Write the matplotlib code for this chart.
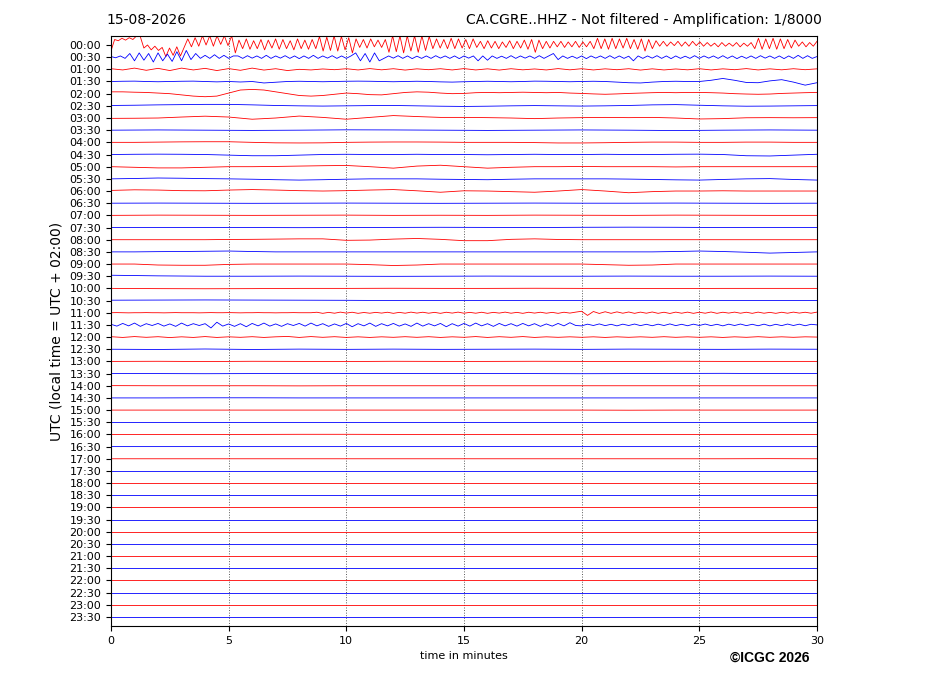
import numpy as np
import matplotlib
matplotlib.use("Agg")
import matplotlib.pyplot as plt

# helicorder: one trace per half hour, values = offset in units of the line spacing (up = positive)
date_label = "15-08-2026"
station_label = "CA.CGRE..HHZ - Not filtered - Amplification: 1/8000"
minutes_span = 30
x_ticks = [0, 5, 10, 15, 20, 25, 30]
row_labels = [f"{h:02d}:{m:02d}" for h in range(24) for m in (0, 30)]
trace_colors = ["red", "blue"]

tr_0000 = [
    -0.5, 0.45, 0.35, 0.55, 0.4, 0.6, 0.45, 0.75, 0.7,
    -0.25, 0.0, -0.4, -0.1, -0.45,
    -0.2, -0.95, -0.25, -0.85, -0.15, -0.9, -0.2,
    0.5, -0.15, 0.6,
    -0.1, 0.75, 0.0, 0.75, -0.1, 0.75, 0.05, 0.75, -0.05, 0.75,
    -0.65,
    0.4, -0.3, 0.5, -0.35, 0.35, -0.3, 0.45, -0.4, 0.4, -0.25, 0.5, -0.35, 0.45, -0.3, 0.35, -0.4, 0.5, -0.3, 0.4, -0.35, 0.45, -0.3,
    0.7, -0.5, 0.65, -0.45, 0.75, -0.5, 0.7, -0.4, 0.6, -0.65,
    0.5, -0.2, 0.45, -0.25, 0.5, -0.15, 0.4, -0.2, 0.45,
    -0.6, 0.75, -0.55, 0.75, -0.65, 0.75, -0.5, 0.75, -0.6, 0.75, -0.45, 0.7,
    -0.3, 0.5, -0.25, 0.45, -0.3, 0.55, -0.3, 0.5, -0.25, 0.45, -0.3, 0.5,
    -0.2, 0.3, -0.3, 0.35, -0.25, 0.3, -0.3, 0.25, -0.2, 0.35, -0.3, 0.3, -0.25, 0.4, -0.35, 0.45, -0.6, 0.4, -0.3, 0.3, -0.25, 0.3,
    -0.15, 0.3, -0.2, 0.25, -0.15, 0.3, -0.2, 0.25, -0.15, 0.3,
    -0.3, 0.55, -0.3, 0.5, -0.35, 0.55, -0.3, 0.5, -0.25, 0.55, -0.3, 0.45, -0.35, 0.5, -0.5, 0.45, -0.3, 0.35,
    -0.1, 0.3, -0.1, 0.25, -0.05, 0.3, -0.1, 0.25, -0.1, 0.3, -0.05, 0.25, -0.1, 0.2,
    -0.1, 0.15, -0.15, 0.2, -0.1, 0.15, -0.1, 0.2, -0.15, 0.15, -0.1, 0.2,
    -0.3, 0.55, -0.35, 0.5, -0.3, 0.55, -0.35, 0.5, -0.3, 0.45, -0.25, 0.4,
    -0.1, 0.25, -0.15, 0.2, -0.1, 0.3,
]
tr_0030 = [
    0.05, -0.05, 0.1, -0.1,
    0.3, -0.3, 0.35, -0.25, 0.3, -0.4, 0.35, -0.3, 0.25, -0.35, 0.45, -0.3, 0.55, -0.2, 0.3,
    -0.1, 0.15, -0.1, 0.2, -0.1, 0.15, -0.1, 0.1,
    0.1, -0.1, 0.12, -0.08, 0.1, -0.1, 0.15, -0.1, 0.1, -0.08, 0.12, -0.1, 0.1, -0.12, 0.1, -0.1, 0.15, -0.1, 0.1, -0.08, 0.12, -0.1, 0.1, -0.1, 0.1,
    0.35, -0.3, 0.3, -0.4, 0.35, -0.3,
    -0.1, 0.1, -0.08, 0.12, -0.1, 0.1, -0.12, 0.08, -0.1, 0.1, -0.1, 0.12, -0.08, 0.1, -0.1, 0.1, -0.12, 0.1, -0.08, 0.1,
    -0.3, 0.1, -0.25,
    0.1, -0.1, 0.08, -0.1, 0.12, -0.1, 0.1, -0.08, 0.1, -0.1, 0.12, -0.1, 0.1,
    0.3, -0.2,
    0.1, -0.1, 0.08, -0.1, 0.1, -0.12, 0.1, -0.08, 0.1, -0.1, 0.12, -0.1, 0.1, -0.1, 0.08,
    -0.3, 0.1,
    -0.1, 0.1, -0.08, 0.12, -0.1, 0.1, -0.12, 0.1, -0.1, 0.08, -0.1, 0.12, -0.1, 0.1, -0.08, 0.1, -0.1, 0.12, -0.1,
    0.1, -0.12, 0.08, -0.1, 0.1, -0.1, 0.12, -0.08, 0.1, -0.1, 0.1, -0.12, 0.1, -0.1, 0.15, -0.1, 0.12, -0.1, 0.05,
]
tr_0100 = [
    0.05, -0.05, 0.1, -0.08, 0.08, -0.1, 0.1, -0.05, 0.08, -0.1, 0.06, -0.08, 0.1, -0.06, 0.05, -0.1,
    0.0, -0.05, 0.03, -0.03, 0.05, -0.05, 0.06, -0.04, 0.05, -0.06, 0.04, -0.03, 0.05, -0.05, 0.06,
    -0.05, 0.04, -0.06, 0.05, -0.04, 0.03, -0.05, 0.06, -0.04, 0.05, -0.05, 0.04, -0.03, 0.05, -0.06,
    0.04, -0.05, 0.03, -0.04, 0.05, -0.05, 0.04, -0.03, 0.06, -0.05, 0.04, -0.04, 0.05, -0.03, 0.04,
]
tr_0130 = [
    0.0, 0.02, 0.03, 0.0, -0.02, 0.0, 0.02, 0.03, 0.0, -0.03, 0.0,
    -0.04, 0.0, -0.12, -0.06, 0.0, 0.02, 0.0, -0.02, 0.0, 0.02,
    0.03, 0.02, 0.0, -0.02, 0.0, 0.02, 0.0, -0.03, -0.05, -0.02,
    0.0, 0.02, 0.0, -0.02, 0.0, 0.03, 0.02, 0.0, -0.02, 0.0,
    0.02, 0.0, -0.05, -0.1, -0.12, -0.05, 0.0, 0.02, 0.0, 0.0,
    0.1, 0.25, 0.1, -0.08, -0.1, 0.05, 0.15, -0.05, -0.3, -0.1,
]
tr_0200 = [
    0.15, 0.15, 0.12, 0.1, 0.05, 0.0, -0.1, -0.2, -0.25, -0.2, 0.05,
    0.3, 0.35, 0.3, 0.15, 0.0, -0.15, -0.2, -0.15, -0.05, 0.05,
    0.0, -0.08, -0.1, 0.0, 0.1, 0.15, 0.12, 0.05, 0.0, 0.02,
    0.08, 0.1, 0.08, 0.1, 0.12, 0.1, 0.08, 0.1, 0.05, 0.02,
    -0.02, -0.05, -0.02, 0.02, 0.05, 0.08, 0.1, 0.08, 0.1, 0.1,
    0.08, 0.05, 0.0, -0.03, -0.05, -0.03, 0.02, 0.05, 0.08, 0.1,
]
tr_0230 = [0.03, 0.05, 0.08, 0.1, 0.12, 0.12, 0.08, 0.03, 0.0, -0.02, 0.0, 0.02, 0.03, 0.0, -0.03, -0.05,
           -0.03, 0.0, 0.02, 0.0, -0.02, 0.0, 0.03, 0.08, 0.1, 0.05, 0.0, -0.03, -0.02, 0.0, 0.02]
tr_0300 = [-0.03, -0.02, 0.0, 0.08, 0.15, 0.08, -0.1, 0.0, 0.16, 0.05, -0.1, 0.05, 0.2, 0.12, 0.05, 0.05,
           0.03, 0.0, -0.05, 0.0, 0.03, 0.05, 0.03, 0.05, 0.0, -0.08, -0.05, 0.02, 0.03, 0.02, 0.03]
tr_0330 = [0.0, 0.02, 0.0, -0.02, 0.0, 0.03, 0.02, 0.0, -0.02, 0.0, 0.02, 0.0, -0.03, 0.0, 0.02, 0.0]
tr_0400 = [0.0, 0.0, 0.02, 0.04, 0.05, 0.05, 0.0, -0.04, -0.05, -0.04, 0.0, 0.02, 0.03, 0.03, 0.02, 0.0,
           0.0, 0.0, -0.02, -0.05, -0.05, -0.03, 0.0, 0.02, 0.02, 0.0, 0.0, 0.02, 0.02, 0.0, 0.0]
tr_0430 = [0.0, 0.02, 0.03, 0.02, 0.0, -0.05, -0.1, -0.1, -0.05, 0.0, 0.02, 0.0, 0.0, 0.02, 0.0, 0.0,
           -0.02, 0.0, 0.02, 0.0, 0.0, 0.02, 0.0, 0.0, 0.02, 0.03, 0.0, -0.1, -0.12, -0.05, 0.02]
tr_0500 = [0.0, -0.05, -0.1, -0.1, -0.05, 0.0, 0.0, 0.02, 0.05, 0.08, 0.1, 0.0, -0.12, 0.05, 0.12, 0.0,
           -0.12, -0.05, 0.0, 0.0, 0.02, 0.0, 0.0, 0.0, -0.02, 0.0, 0.0, 0.0, 0.0, 0.0, 0.0]
tr_0530 = [0.0, 0.03, 0.07, 0.05, 0.02, 0.0, -0.03, -0.07, -0.1, -0.07, -0.03, 0.0, 0.0, 0.0, -0.03, -0.05,
           -0.07, -0.03, 0.0, 0.0, 0.0, 0.0, -0.02, -0.05, -0.08, -0.1, -0.05, 0.0, 0.02, -0.05, -0.1]
tr_0600 = [0.05, 0.1, 0.08, 0.03, 0.02, 0.08, 0.12, 0.08, 0.03, 0.0, 0.03, 0.08, 0.12, 0.02, -0.1, 0.02,
           0.0, -0.05, -0.1, 0.0, 0.12, 0.0, -0.14, -0.05, 0.0, 0.0, 0.02, 0.0, 0.0, 0.0, 0.0]
tr_0630 = [0.0, 0.01, 0.0, -0.01, 0.0, 0.01, 0.0, -0.01, 0.0, 0.01, 0.0, 0.0, 0.01, 0.0, -0.01, 0.0]
tr_0700 = [0.0, 0.02, 0.01, 0.0, 0.01, 0.02, 0.0, 0.01, 0.0, 0.02, 0.01, 0.0, 0.02, 0.01, 0.0, 0.0]
tr_0730 = [0.0, 0.01, 0.0, 0.0, -0.01, 0.0, 0.01, 0.02, 0.01, 0.0, 0.02, 0.03, 0.02, 0.0, 0.01, 0.0]
tr_0800 = [0.0, 0.0, 0.0, 0.0, 0.0, 0.02, 0.03, 0.05, 0.07, 0.07, -0.05, -0.03, 0.05, 0.1, 0.03, -0.08,
           -0.08, 0.03, 0.07, 0.02, 0.0, 0.0, 0.0, 0.0, 0.0, 0.0, 0.0, 0.0, 0.0, 0.0, 0.0]
tr_0830 = [0.0, 0.0, 0.02, 0.03, 0.05, 0.07, 0.03, 0.0, 0.0, 0.0, 0.0, 0.0, 0.0, 0.0, 0.0, 0.0,
           0.0, 0.0, 0.0, 0.0, 0.0, 0.0, 0.0, 0.0, 0.03, 0.07, 0.03, -0.03, -0.1, -0.05, 0.0]
tr_0900 = [0.0, 0.0, -0.08, -0.1, -0.1, -0.03, 0.0, 0.0, 0.0, 0.0, 0.0, -0.05, -0.12, -0.08, 0.0, 0.0,
           0.0, 0.0, 0.0, 0.0, 0.0, -0.05, -0.1, -0.08, 0.0, 0.0, 0.0, 0.0, 0.0, 0.0, 0.0]
tr_0930 = [0.08, 0.03, 0.0, 0.0, 0.01, 0.0, -0.01, 0.0, 0.01, 0.0, 0.0, 0.01, 0.0, 0.0, 0.01, 0.0]
tr_1000 = [0.0, -0.02, -0.03, -0.02, 0.0, 0.0, 0.01, 0.0, 0.0, 0.01, 0.0, 0.0, -0.01, 0.0, 0.0, 0.0]
tr_1030 = [0.03, 0.04, 0.05, 0.04, 0.03, 0.02, 0.0, 0.0, 0.0, 0.0, 0.0, 0.0, 0.0, 0.0, 0.0, 0.0]
tr_1100 = [
    0.0, 0.01, 0.0, -0.01, 0.0, 0.0, 0.01, 0.0, 0.0, -0.01, 0.0, 0.01, 0.0, 0.0, 0.0, -0.01, 0.0, 0.01,
    0.0, 0.0, 0.01, 0.0, -0.01, 0.0, 0.0, 0.01, 0.0, 0.0, -0.01, 0.0, 0.0, 0.01, 0.0, 0.0, 0.0,
    0.04, -0.05, 0.03, -0.04, 0.05, -0.03, 0.04, -0.05, 0.02, -0.04, 0.03, -0.03, 0.04, -0.05, 0.03,
    -0.04, 0.05, -0.03, 0.04, -0.04, 0.03, -0.05, 0.04, -0.03, 0.05, -0.04, 0.03, -0.04, 0.04, -0.05,
    0.03, -0.03, 0.05, -0.04, 0.03, -0.05, 0.04, -0.03, 0.04, -0.04, 0.03, -0.05, 0.04, -0.03, 0.05,
    0.12, -0.22, 0.1,
    -0.06, 0.08, -0.05, 0.07, -0.04, 0.06, -0.05, 0.05, -0.04, 0.06, -0.05, 0.04, -0.06, 0.05, -0.04,
    0.05, -0.05, 0.04, -0.04, 0.06, -0.05, 0.04, -0.03, 0.05, -0.04, 0.04, -0.05, 0.05, -0.04, 0.03,
    -0.05, 0.04, -0.04, 0.05, -0.03, 0.04, -0.04, 0.05,
]
tr_1130 = [
    0.05, -0.1, 0.12, -0.08, 0.15, -0.12, 0.1, -0.05, 0.12, -0.1, 0.08, -0.12, 0.15, -0.08, 0.1, -0.05,
    0.1, -0.25, 0.22, -0.1,
    0.08, -0.12, 0.1, -0.15, 0.12, -0.08, 0.15, -0.1, 0.08, -0.12, 0.1, -0.05, 0.12, -0.1, 0.15, -0.08,
    0.1, -0.12, 0.08, -0.1, 0.12, -0.15, 0.1, -0.08, 0.15, -0.12, 0.1, -0.08, 0.12, -0.1, 0.08, -0.12,
    0.15, -0.1, 0.1, -0.08, 0.12, -0.15, 0.1, -0.1,
    0.12, -0.1, 0.15, -0.08, 0.1, -0.12, 0.12, -0.08, 0.1, -0.1, 0.12, -0.08, 0.1, -0.12, 0.08, -0.1,
    0.12, -0.08, 0.18, -0.05,
    -0.08, 0.06, -0.05, 0.08, -0.06, 0.05, -0.08, 0.06, -0.05, 0.07, -0.06, 0.05, -0.07, 0.06, -0.05,
    0.08, -0.06, 0.05, -0.07, 0.06, -0.05, 0.07, -0.06, 0.05, -0.08, 0.06, -0.05, 0.07, -0.06, 0.05,
    -0.07, 0.06, -0.08, 0.05, -0.06, 0.07, -0.05, 0.06, -0.07, 0.05, 0.0,
]
tr_1200 = [
    0.03, -0.03, 0.04, -0.02, 0.03, -0.04, 0.02, -0.03, 0.04, -0.03, 0.02, -0.02, 0.03, -0.03, 0.02,
    0.05, -0.03, 0.04, -0.02, 0.03, -0.03, 0.02, -0.03, 0.02, -0.02, 0.03, -0.02, 0.03, -0.03, 0.02,
    -0.02, 0.04, -0.03, 0.03, -0.02, 0.04, -0.03, 0.02, -0.02, 0.02, -0.02, 0.02, -0.03, 0.02, -0.02,
    0.02, -0.02, 0.03, -0.02, 0.02, -0.02, 0.02, -0.03, 0.02, -0.02, 0.03, -0.02, 0.02, -0.02, 0.02, 0.0,
]
tr_1230 = [0.0, -0.02, 0.02, -0.02, 0.01, -0.01, 0.01, -0.01, 0.0, 0.01, -0.01, 0.01, 0.0, -0.01, 0.01, 0.0]
tr_1300 = [0.0, 0.01, -0.01, 0.01, 0.0, -0.01, 0.01, 0.0, 0.0, 0.01, 0.0, -0.01, 0.01, 0.0, 0.0, 0.0]
tr_1330 = [0.01, 0.0, -0.01, 0.0, 0.01, 0.0, 0.0, 0.01, 0.0, 0.0, -0.01, 0.0, 0.01, 0.02, 0.0, 0.0]
tr_1400 = [0.01, 0.0, 0.0, 0.0, -0.01, 0.0, 0.0, 0.0, 0.0, 0.0, 0.0, 0.0, 0.0, 0.0, 0.0, 0.0]
tr_1430 = [0.0, 0.0, 0.01, 0.01, 0.0, 0.0, 0.0, 0.0, 0.0, 0.0, 0.0, 0.0, 0.0, 0.0, 0.0, 0.0]
tr_1500 = [0.0, 0.0, 0.0, 0.0, 0.0, 0.0, 0.0, 0.0, 0.0, 0.0, 0.0, -0.01, 0.0, 0.0, 0.0, 0.0]
tr_1530 = [0.0, 0.0, 0.0, 0.0, 0.0, 0.0, 0.0, 0.0, 0.0, 0.0, 0.0, 0.0, 0.0, 0.0, 0.0, 0.0]
tr_1600 = [0.0, 0.0, 0.0, 0.0, 0.01, 0.01, 0.0, 0.0, 0.0, 0.0, 0.0, 0.0, 0.0, 0.0, 0.0, 0.0]
tr_1630 = [0.0, 0.0, 0.0, 0.0, 0.0, 0.0, 0.0, 0.0, 0.01, 0.0, 0.0, 0.0, 0.0, 0.0, 0.0, 0.0]
tr_1700 = [0.0, 0.0, 0.0, 0.0, 0.0, 0.0, 0.0, 0.0, 0.0, 0.0, 0.0, 0.0, 0.0, 0.0, 0.01, 0.0]
tr_1730 = [0.0, 0.0, 0.0, 0.0, 0.0, 0.0, 0.0, 0.0, 0.0, 0.0, 0.0, 0.0, 0.0, 0.0, 0.0, 0.0]
tr_1800 = [0.0, 0.0, 0.0, 0.0, 0.0, 0.0, 0.0, 0.0, 0.0, 0.0, 0.0, 0.0, 0.0, 0.0, 0.0, 0.0]
tr_1830 = [0.0, 0.0, 0.0, 0.0, 0.0, 0.0, 0.0, 0.0, 0.0, 0.0, 0.0, 0.0, 0.0, 0.0, 0.0, 0.0]
tr_1900 = [0.0, 0.0, 0.0, 0.0, 0.0, 0.0, 0.0, 0.0, 0.0, 0.0, 0.0, 0.0, 0.0, 0.0, 0.0, 0.0]
tr_1930 = [0.0, 0.0, 0.0, 0.0, 0.0, 0.0, 0.0, 0.0, 0.0, 0.0, 0.0, 0.0, 0.0, 0.0, 0.0, 0.0]
tr_2000 = [0.0, 0.0, 0.0, 0.0, 0.0, 0.0, 0.0, 0.0, 0.0, 0.0, 0.0, 0.0, 0.0, 0.0, 0.0, 0.0]
tr_2030 = [0.0, 0.0, 0.0, 0.0, 0.0, 0.0, 0.0, 0.0, 0.0, 0.0, 0.0, 0.0, 0.0, 0.0, 0.0, 0.0]
tr_2100 = [0.0, 0.0, 0.0, 0.0, 0.0, 0.0, 0.0, 0.0, 0.0, 0.0, 0.0, 0.0, 0.0, 0.0, 0.0, 0.0]
tr_2130 = [0.0, 0.0, 0.0, 0.0, 0.0, 0.0, 0.0, 0.0, 0.0, 0.0, 0.0, 0.0, 0.0, 0.0, 0.0, 0.0]
tr_2200 = [0.0, 0.0, 0.0, 0.0, 0.0, 0.0, 0.0, 0.0, 0.0, 0.0, 0.0, 0.0, 0.0, 0.0, 0.0, 0.0]
tr_2230 = [0.0, 0.0, 0.0, 0.0, 0.0, 0.0, 0.0, 0.0, 0.0, 0.0, 0.0, 0.0, 0.0, 0.0, 0.0, 0.0]
tr_2300 = [0.0, 0.0, 0.0, 0.0, 0.0, 0.0, 0.0, 0.0, 0.0, 0.0, 0.0, 0.0, 0.0, 0.0, 0.0, 0.0]
tr_2330 = [0.0, 0.0, 0.0, 0.0, 0.0, 0.0, 0.0, 0.0, 0.0, 0.0, 0.0, 0.0, 0.0, 0.0, 0.0, 0.0]

traces = [
    tr_0000, tr_0030, tr_0100, tr_0130, tr_0200, tr_0230, tr_0300, tr_0330,
    tr_0400, tr_0430, tr_0500, tr_0530, tr_0600, tr_0630, tr_0700, tr_0730,
    tr_0800, tr_0830, tr_0900, tr_0930, tr_1000, tr_1030, tr_1100, tr_1130,
    tr_1200, tr_1230, tr_1300, tr_1330, tr_1400, tr_1430, tr_1500, tr_1530,
    tr_1600, tr_1630, tr_1700, tr_1730, tr_1800, tr_1830, tr_1900, tr_1930,
    tr_2000, tr_2030, tr_2100, tr_2130, tr_2200, tr_2230, tr_2300, tr_2330,
]

fig = plt.figure(figsize=(9.27, 6.96), dpi=100)
ax = fig.add_axes([0.1197, 0.1006, 0.7616, 0.8477])

for i, tr in enumerate(traces):
    t = np.linspace(0, minutes_span, len(tr))
    ax.plot(t, i - np.asarray(tr), color=trace_colors[i % 2], lw=0.6)

ax.set_xlim(0, minutes_span)
ax.set_ylim(len(traces) - 0.26, -0.74)
ax.set_yticks(range(len(row_labels)))
ax.set_yticklabels(row_labels)
ax.set_xticks(x_ticks)
ax.tick_params(labelsize=8)
ax.xaxis.grid(True, linestyle=":", color="0.35", linewidth=0.7)
ax.set_xlabel("time in minutes", fontsize=8)
ax.set_ylabel("UTC (local time = UTC + 02:00)", fontsize=10)

fig.text(106 / 927, 1 - 20 / 696, date_label, ha="left", va="center", fontsize=10)
fig.text(822 / 927, 1 - 20 / 696, station_label, ha="right", va="center", fontsize=10)
fig.text(770 / 927, 1 - 658 / 696, "\u00a9ICGC 2026", ha="center", va="center",
         fontsize=10, fontweight="bold", family="Liberation Sans")

fig.savefig("out.png", dpi=100)
